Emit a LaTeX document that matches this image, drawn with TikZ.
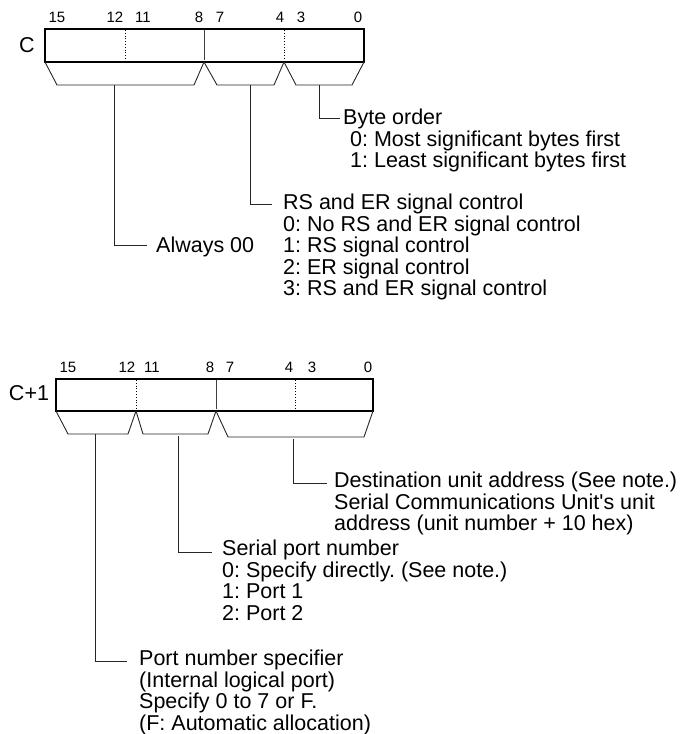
\documentclass[tikz,border=0pt]{standalone}
\usepackage{fontspec}
\setmainfont{Liberation Sans}
\frenchspacing
\begin{document}
\begin{tikzpicture}[x=1pt,y=-1pt,
  regbox/.style={line width=2.6pt,line join=miter},
  divsolid/.style={line width=0.8pt,draw=black!75},
  divdot/.style={line width=0.8pt,dotted},
  brk/.style={line width=0.9pt,draw=black!85,line join=miter},
  lead/.style={line width=0.9pt,draw=black!85},
  bitnum/.style={font=\fontsize{15}{15}\selectfont,inner sep=0pt},
  reglabel/.style={font=\fontsize{21.5}{21.5}\selectfont,inner sep=0pt},
  txt/.style={font=\fontsize{21.5}{21.5}\selectfont\frenchspacing,inner sep=0pt,anchor=north west,align=left}]
\useasboundingbox (0,0) rectangle (684,734);

% ---------- Register C ----------
\node[reglabel] (lc) at (27,45) {C};
\node[bitnum] (t15) at (57,17) {15};
\node[bitnum] (t12) at (115,17) {12};
\node[bitnum] (t11) at (143,17) {11};
\node[bitnum] (t8) at (199,17) {8};
\node[bitnum] (t7) at (220,17) {7};
\node[bitnum] (t4) at (280,17) {4};
\node[bitnum] (t3) at (301,17) {3};
\node[bitnum] (t0) at (358,17) {0};

\draw[divdot] (125,30) -- (125,60);
\draw[divsolid] (204,30) -- (204,60);
\draw[divdot] (284,30) -- (284,60);
\draw[regbox] (45,29) rectangle (364,62);

\draw[brk] (45,62) -- (57,85) -- (194,85) -- (204,62);
\draw[brk] (204,62) -- (217,85) -- (274,85) -- (284,62);
\draw[brk] (284,62) -- (296,85) -- (352,85) -- (364,62);

\coordinate (ca) at (114,85);
\coordinate (cb) at (250,85);
\coordinate (cc) at (319,85);

\node[txt] (byte) at (343,109) {Byte order\\\hspace*{7pt}0: Most significant bytes first\\\hspace*{7pt}1: Least significant bytes first};
\node[txt] (rser) at (283,194) {RS and ER signal control\\0: No RS and ER signal control\\1: RS signal control\\2: ER signal control\\3: RS and ER signal control};
\node[txt] (alw) at (156,237) {Always 00};

\draw[lead] (cc) |- (340,118);
\draw[lead] (cb) |- (272,204);
\draw[lead] (ca) |- (147,245);

% ---------- Register C+1 ----------
\node[reglabel] (lc1) at (29,393) {C+1};
\node[bitnum] (u15) at (68,367) {15};
\node[bitnum] (u12) at (127,367) {12};
\node[bitnum] (u11) at (152,367) {11};
\node[bitnum] (u8) at (210,367) {8};
\node[bitnum] (u7) at (230,367) {7};
\node[bitnum] (u4) at (289,367) {4};
\node[bitnum] (u3) at (312,367) {3};
\node[bitnum] (u0) at (368,367) {0};

\draw[divdot] (136,380) -- (136,409);
\draw[divsolid] (216,380) -- (216,409);
\draw[divdot] (295,380) -- (295,409);
\draw[regbox] (56,379) rectangle (373,411);

\draw[brk] (56,411) -- (68,434) -- (128,434) -- (136,411);
\draw[brk] (136,411) -- (143,434) -- (208,434) -- (216,411);
\draw[brk] (216,411) -- (228,437) -- (364,437) -- (373,411);

\coordinate (da) at (95,434);
\coordinate (db) at (178,436);
\coordinate (dc) at (293,439);

\node[txt] (dest) at (334,472) {Destination unit address (See note.)\\Serial Communications Unit\textquotesingle s unit\\address (unit number + 10 hex)};
\node[txt] (spn) at (222,540) {Serial port number\\0: Specify directly. (See note.)\\1: Port 1\\2: Port 2};
\node[txt] (pns) at (139,650) {Port number specifier\\(Internal logical port)\\Specify 0 to 7 or F.\\(F: Automatic allocation)};

\draw[lead] (dc) |- (327,483);
\draw[lead] (db) |- (212,552);
\draw[lead] (da) |- (127,661);
\end{tikzpicture}
\end{document}
